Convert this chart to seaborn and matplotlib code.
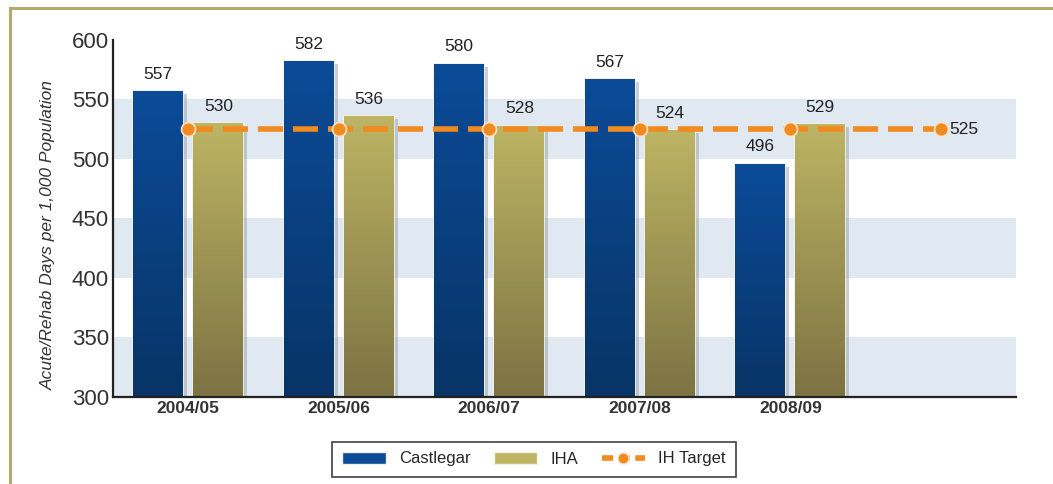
import numpy as np
import pandas as pd
import matplotlib
matplotlib.use("Agg")
import matplotlib.pyplot as plt
import matplotlib.patheffects as pe
from matplotlib.patches import Patch, Rectangle
from matplotlib.lines import Line2D
import seaborn as sns

# data
periods = ["2004/05", "2005/06", "2006/07", "2007/08", "2008/09"]
castlegar = [557, 582, 580, 567, 496]
iha = [530, 536, 528, 524, 529]
target_x = [0, 1, 2, 3, 4, 5]
target = [525, 525, 525, 525, 525, 525]
yticks = [300, 350, 400, 450, 500, 550, 600]
bands = [(300, 350), (400, 450), (500, 550)]

blue_top, blue_bot = "#0b4b98", "#083466"
olive_top, olive_bot = "#bdb464", "#7c7243"
orange = "#f18a1f"

df = pd.DataFrame({
    "period": periods * 2,
    "series": ["Castlegar"] * len(periods) + ["IHA"] * len(periods),
    "value": castlegar + iha,
})

sns.set_style("white")
plt.rcParams["font.family"] = ["Liberation Sans", "DejaVu Sans"]

fig = plt.figure(figsize=(10.53, 4.84), dpi=100)
ax = fig.add_axes([113 / 1053, 1 - 397 / 484, 903 / 1053, 357 / 484])

sns.barplot(data=df, x="period", y="value", hue="series", order=periods,
            palette=[blue_bot, olive_bot], width=0.8, gap=0.17,
            legend=False, ax=ax, zorder=2)

for lo, hi in bands:
    ax.axhspan(lo, hi, color="#e0e8f1", zorder=0, lw=0)

# gradient fill + shadow for each bar
grad = np.linspace(0, 1, 256).reshape(-1, 1)
colours = [(blue_top, blue_bot), (olive_top, olive_bot)]
for cont, (top_c, bot_c) in zip(ax.containers, colours):
    cmap = matplotlib.colors.LinearSegmentedColormap.from_list("g", [bot_c, top_c])
    for bar in cont:
        x0, w, h = bar.get_x(), bar.get_width(), bar.get_height()
        bar.set_edgecolor("#f4f1e2")
        bar.set_linewidth(1.2)
        bar.set_path_effects([pe.SimplePatchShadow(offset=(3, -2), shadow_rgbFace="#9aa3ad", alpha=0.5),
                              pe.Normal()])
        im = ax.imshow(grad, cmap=cmap, origin="lower", aspect="auto",
                       extent=[x0, x0 + w, 300, h], zorder=2.5)
        im.set_clip_path(bar)
        ax.text(x0 + w / 2, h + 8, f"{h:.0f}", ha="center", va="bottom",
                fontsize=12.5, color="#222222", zorder=5)

sns.lineplot(x=target_x, y=target, ax=ax, color=orange, lw=4, marker="o", markersize=10,
             markeredgecolor="#fbe3c8", markeredgewidth=1.2, zorder=4)
ax.lines[-1].set_linestyle((0, (4.5, 1.8)))
ax.text(target_x[-1] + 0.06, target[-1], f"{target[-1]}", ha="left", va="center",
        fontsize=12.5, color="#222222", zorder=5)

ax.set_xlim(-0.5, 5.5)
ax.set_ylim(300, 600)
ax.set_yticks(yticks)
ax.set_yticklabels([str(v) for v in yticks], fontsize=16, color="#333333")
ax.set_xticks(range(len(periods)))
ax.set_xticklabels(periods, fontsize=12.5, fontweight="bold", color="#333333")
ax.tick_params(axis="both", length=0, pad=3)
ax.set_xlabel("")
ax.set_ylabel("Acute/Rehab Days per 1,000 Population", fontsize=12.5, style="italic",
              color="#333333")
ax.yaxis.set_label_coords(-0.063, 0.455)
for s in ["top", "right"]:
    ax.spines[s].set_visible(False)
for s in ["left", "bottom"]:
    ax.spines[s].set_color("#222222")
    ax.spines[s].set_linewidth(1.6)
    ax.spines[s].set_zorder(6)

handles = [Patch(facecolor=blue_top, edgecolor="#f4f1e2"),
           Patch(facecolor=olive_top, edgecolor="#f4f1e2"),
           Line2D([0], [0], color=orange, lw=4, ls=(0, (2, 1)), marker="o",
                  markersize=8, markeredgecolor="#fbe3c8")]
leg = fig.legend(handles, ["Castlegar", "IHA", "IH Target"], loc="center",
                 bbox_to_anchor=(534 / 1053, 1 - 459 / 484), ncol=3, frameon=True,
                 fancybox=False, edgecolor="#111111", fontsize=12, handlelength=2.6,
                 handleheight=0.7, columnspacing=1.4, borderpad=0.6)
leg.get_frame().set_linewidth(1.2)

# outer frame of the source page
fig.patches.append(Rectangle((10 / 1053, -0.1), 1.2, 1.1 - 8 / 484,
                             transform=fig.transFigure, fill=False,
                             edgecolor="#b5aa6c", lw=2.2))

fig.savefig("out.png", dpi=100)
